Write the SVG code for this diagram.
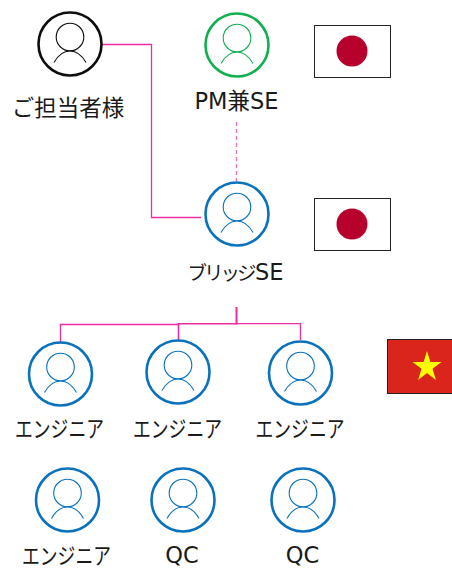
<svg xmlns="http://www.w3.org/2000/svg" width="452" height="568" viewBox="0 0 452 568">
<style>
text{font-family:"DejaVu Sans","Noto Sans CJK JP",sans-serif;font-size:22.500px;fill:#1a1a1a;text-anchor:middle}
.p{fill:#fff;stroke-width:2.600}
.h{fill:none;stroke-width:1.100}
.blue{stroke:#0a72bd}
.green{stroke:#10b050}
.black{stroke:#0d0d0d}
.c{fill:none;stroke:#ec2f9e;stroke-width:1.300}
.flag{stroke:#222;stroke-width:1}
</style>
<defs>
<g id="person">
<circle class="p" r="31.500"/>
<circle class="h" cx="0" cy="-7" r="13.800"/>
<path class="h" d="M-16 18.500C-11 9.500-5 7 0 7S11 9.500 16 18.500"/>
</g>
</defs>
<rect width="452" height="568" fill="#fff"/>
<g id="connectors">
<path class="c" d="M102 44.500H151.500V217.500H201"/>
<path class="c" d="M236.500 122V181" stroke-dasharray="4 3" style="stroke:#f070b8"/>
<path class="c" d="M236.500 307V324.500" style="stroke-width:2"/>
<path class="c" d="M60.500 342V324.500H178.500"/>
<path class="c" d="M178.500 340V323.700H236.500" style="stroke-width:1.600"/>
<path class="c" d="M236.500 323.700H300.500V340"/>
</g>
<g id="customer"><use href="#person" x="70" y="44" class="black"/><text x="68" y="116">ご担当者様</text></g>
<g id="pm"><use href="#person" x="237" y="45" class="green"/><text x="236.500" y="109">PM兼SE</text></g>
<g id="flag-jp-1"><rect class="flag" x="314.500" y="25.500" width="76" height="52" fill="#fff"/><circle cx="352" cy="51" r="15.500" fill="#b8002d"/></g>
<g id="bridge"><use href="#person" x="237" y="214" class="blue"/><text x="187.500" y="280" style="text-anchor:start"><tspan style="font-size:19.500px;letter-spacing:-3px">ブリッジ</tspan><tspan dx="1.500">SE</tspan></text></g>
<g id="flag-jp-2"><rect class="flag" x="314.500" y="198.500" width="76" height="52" fill="#fff"/><circle cx="352" cy="224" r="15.500" fill="#b8002d"/></g>
<g id="eng1"><use href="#person" x="60.500" y="374" class="blue"/><text x="59.500" y="437" textLength="89" lengthAdjust="spacingAndGlyphs">エンジニア</text></g>
<g id="eng2"><use href="#person" x="178" y="372" class="blue"/><text x="177.500" y="437" textLength="89" lengthAdjust="spacingAndGlyphs">エンジニア</text></g>
<g id="eng3"><use href="#person" x="300.500" y="373" class="blue"/><text x="300" y="437" textLength="89" lengthAdjust="spacingAndGlyphs">エンジニア</text></g>
<g id="flag-vn"><rect class="flag" x="387.500" y="339.500" width="66" height="54" fill="#da251d"/><path d="M427 351L430.400 361.900H441.500L432.500 368.700L435.900 380L427 373L418.100 380L421.500 368.700L412.500 361.900H423.600Z" fill="#ff0"/></g>
<g id="eng4"><use href="#person" x="67.500" y="500" class="blue"/><text x="66.500" y="564" textLength="89" lengthAdjust="spacingAndGlyphs">エンジニア</text></g>
<g id="qc1"><use href="#person" x="183" y="500" class="blue"/><text x="182" y="563">QC</text></g>
<g id="qc2"><use href="#person" x="303" y="500" class="blue"/><text x="302.500" y="563">QC</text></g>
</svg>
